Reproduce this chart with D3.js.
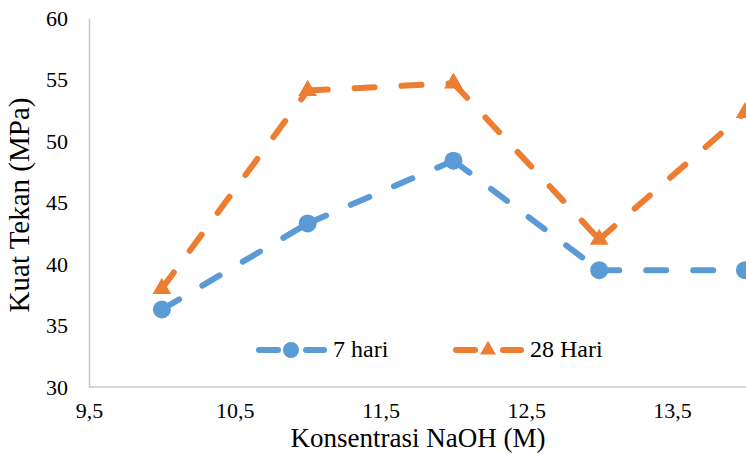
<!DOCTYPE html>
<html>
<head>
<meta charset="utf-8">
<script src="https://cdn.jsdelivr.net/npm/d3@7"></script>
<style>
  html, body { margin: 0; padding: 0; background: #fff; }
  svg { display: block; }
</style>
</head>
<body>
<svg id="chart" width="746" height="453"></svg>
<script>
// NaOH concentration (M)
const concentrations = [10, 11, 12, 13, 14];
// Compressive strength (MPa) per curing age
const strength7 = [36.3, 43.3, 48.4, 39.5, 39.5];
const strength28 = [38.0, 54.1, 54.7, 42.0, 52.3];
const seriesNames = ["7 hari", "28 Hari"];
const xTicks = [9.5, 10.5, 11.5, 12.5, 13.5];
const yTicks = [30, 35, 40, 45, 50, 55, 60];

const FONT = "'Liberation Serif', 'Times New Roman', serif";
const svg = d3.select("#chart");
const W = 746, H = 453;
const plotLeft = 89, plotTop = 18, plotBottom = 387;

const x = d3.scaleLinear().domain([9.5, 14]).range([plotLeft, 745]);
const y = d3.scaleLinear().domain([30, 60]).range([plotBottom, plotTop]);

const fmt = d => String(d).replace(".", ",");
const serif = sel => sel.style("font-family", FONT).attr("font-family", FONT).attr("fill", "#000");

// Axes: light grey lines only, no tick marks
const axisColor = "#c8c8c8";
const yAxis = svg.append("g").attr("transform", `translate(${plotLeft},0)`)
  .call(d3.axisLeft(y).tickValues(yTicks).tickSize(0).tickPadding(21).tickFormat(d => d));
yAxis.attr("font-family", FONT);
yAxis.select(".domain").attr("stroke", axisColor).attr("stroke-width", 1.5);
yAxis.selectAll("text").call(serif).style("font-size", "22px");

const xAxis = svg.append("g").attr("transform", `translate(0,${plotBottom})`)
  .call(d3.axisBottom(x).tickValues(xTicks).tickSize(0).tickPadding(15).tickFormat(fmt));
xAxis.attr("font-family", FONT);
xAxis.select(".domain").attr("stroke", axisColor).attr("stroke-width", 1.5).attr("d", `M${plotLeft},0H${W}`);
xAxis.selectAll("text").call(serif).style("font-size", "22px");

// Axis titles
svg.append("text")
  .attr("transform", `translate(29,${(95 + 315) / 2}) rotate(-90)`)
  .attr("text-anchor", "middle")
  .call(serif)
  .style("font-size", "29px")
  .text("Kuat Tekan (MPa)");

svg.append("text")
  .attr("x", 418).attr("y", 447)
  .attr("text-anchor", "middle")
  .call(serif)
  .style("font-size", "27px")
  .text("Konsentrasi NaOH (M)");

const colors = ["#5b9bd5", "#ed7d31"];
const seriesData = [strength7, strength28].map(vals => concentrations.map((c, i) => ({ c, v: vals[i] })));

const line = d3.line().x(d => x(d.c)).y(d => y(d.v));
const dash = "20,27";
const triangle = d3.symbol().type(d3.symbolTriangle).size(150);

seriesData.forEach((pts, si) => {
  const g = svg.append("g");
  // each segment starts its own dash pattern at the point
  d3.pairs(pts).forEach(seg => {
    g.append("path")
      .attr("d", line(seg))
      .attr("fill", "none")
      .attr("stroke", colors[si])
      .attr("stroke-width", 6)
      .attr("stroke-dasharray", dash)
      .attr("stroke-linecap", "round");
  });
  if (si === 0) {
    g.selectAll("circle").data(pts).join("circle")
      .attr("cx", d => x(d.c)).attr("cy", d => y(d.v)).attr("r", 9)
      .attr("fill", colors[si]);
  } else {
    g.selectAll("path.m").data(pts).join("path").attr("class", "m")
      .attr("transform", d => `translate(${x(d.c)},${y(d.v)})`)
      .attr("d", triangle)
      .attr("fill", colors[si]);
  }
});

// Legend
const legend = [
  { x0: 256, tx: 333 },
  { x0: 453, tx: 530 }
];
legend.forEach((l, si) => {
  const g = svg.append("g");
  const ly = 350;
  g.append("line").attr("x1", l.x0 + 3).attr("x2", l.x0 + 22).attr("y1", ly).attr("y2", ly)
    .attr("stroke", colors[si]).attr("stroke-width", 6).attr("stroke-linecap", "round");
  g.append("line").attr("x1", l.x0 + 50).attr("x2", l.x0 + 68).attr("y1", ly).attr("y2", ly)
    .attr("stroke", colors[si]).attr("stroke-width", 6).attr("stroke-linecap", "round");
  if (si === 0) {
    g.append("circle").attr("cx", l.x0 + 35).attr("cy", ly).attr("r", 8).attr("fill", colors[si]);
  } else {
    g.append("path").attr("transform", `translate(${l.x0 + 35},${ly})`)
      .attr("d", d3.symbol().type(d3.symbolTriangle).size(110)).attr("fill", colors[si]);
  }
  g.append("text").attr("x", l.tx).attr("y", 357).call(serif).style("font-size", "24px").text(seriesNames[si]);
});
</script>
</body>
</html>
